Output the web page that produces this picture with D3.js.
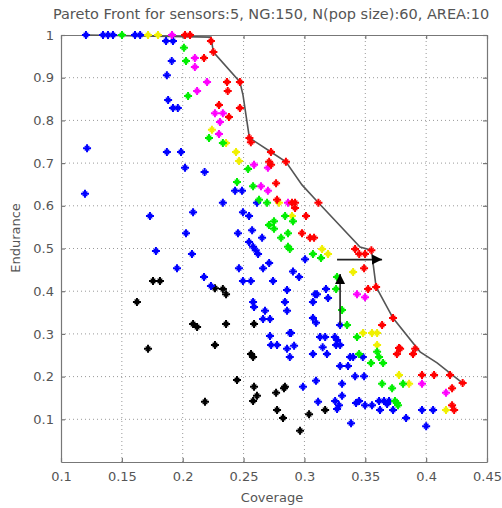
<!DOCTYPE html>
<html lang="en">
<head>
  <meta charset="UTF-8">
  <title>Pareto Front</title>
  <script src="https://cdn.jsdelivr.net/npm/d3@7"></script>
  <style>
    body { margin: 0; background: #fff; }
    text { font-family: "DejaVu Sans", Arial, sans-serif; fill: #555; }
  </style>
</head>
<body>
<script>
// points, [coverage, endurance]
const bluePts = [[0.1205,1],[0.1345,1],[0.1386,1],[0.1427,1],[0.1608,1],[0.165,1],[0.1863,0.986],[0.192,0.986],
  [0.191,0.939],[0.187,0.906],[0.188,0.848],[0.192,0.829],[0.196,0.829],[0.1214,0.735],[0.187,0.726],[0.1986,0.726],
  [0.2019,0.689],[0.218,0.679],[0.1197,0.628],[0.233,0.607],[0.1731,0.576],[0.2085,0.585],[0.2027,0.536],[0.178,0.494],
  [0.2076,0.487],[0.1953,0.454],[0.2175,0.433],[0.2232,0.412],[0.243,0.635],[0.2487,0.635],[0.261,0.607],[0.2495,0.585],
  [0.2545,0.576],[0.2454,0.536],[0.257,0.543],[0.2652,0.525],[0.2545,0.515],[0.2578,0.504],[0.26,0.496],[0.2619,0.487],
  [0.3005,0.475],[0.2462,0.454],[0.266,0.454],[0.271,0.466],[0.2906,0.446],[0.2956,0.433],[0.2495,0.424],[0.256,0.424],
  [0.2742,0.424],[0.2857,0.403],[0.3103,0.393],[0.3177,0.405],[0.3087,0.393],[0.3194,0.384],[0.307,0.375],[0.307,0.337],
  [0.3095,0.326],[0.3293,0.321],[0.3128,0.293],[0.317,0.293],[0.325,0.293],[0.3268,0.286],[0.315,0.269],[0.326,0.274],
  [0.3293,0.274],[0.288,0.302],[0.2915,0.272],[0.2857,0.265],[0.288,0.246],[0.307,0.253],[0.3185,0.253],[0.3375,0.246],
  [0.34,0.246],[0.348,0.246],[0.3293,0.225],[0.3358,0.225],[0.3416,0.201],[0.349,0.201],[0.3095,0.19],[0.3309,0.183],
  [0.2988,0.176],[0.3112,0.141],[0.3252,0.143],[0.3284,0.133],[0.3268,0.124],[0.3309,0.155],[0.3424,0.138],[0.3449,0.143],
  [0.3498,0.133],[0.3555,0.133],[0.3613,0.143],[0.3621,0.122],[0.3654,0.143],[0.3695,0.143],[0.3679,0.136],[0.3728,0.122],
  [0.3966,0.122],[0.4057,0.122],[0.3835,0.103],[0.40,0.084],[0.3383,0.091],[0.2578,0.375],[0.2586,0.363],[0.284,0.375],
  [0.2857,0.354],[0.2676,0.354],[0.266,0.335],[0.2717,0.335],[0.289,0.302],[0.2717,0.295],[0.2726,0.274],[0.2775,0.274]];

const redPts = [[0.2019,1],[0.206,1],[0.2232,0.986],[0.2252,0.96],[0.2175,0.946],[0.2364,0.89],[0.247,0.89],[0.237,0.869],
  [0.2298,0.836],[0.247,0.829],[0.238,0.808],[0.2548,0.759],[0.256,0.749],[0.2725,0.726],[0.2848,0.703],[0.271,0.703],
  [0.2726,0.696],[0.2767,0.653],[0.2775,0.614],[0.2898,0.607],[0.2923,0.607],[0.2923,0.595],[0.3115,0.607],[0.3013,0.576],
  [0.298,0.536],[0.3046,0.525],[0.3079,0.525],[0.3416,0.499],[0.345,0.487],[0.3498,0.487],[0.355,0.496],[0.349,0.454],
  [0.3589,0.41],[0.3523,0.405],[0.3728,0.337],[0.3638,0.321],[0.3777,0.267],[0.376,0.253],[0.3786,0.265],[0.3892,0.253],
  [0.391,0.265],[0.3966,0.204],[0.4065,0.204],[0.4196,0.204],[0.43,0.185],[0.4213,0.173],[0.4213,0.133],[0.423,0.122]];

const magentaPts = [[0.1912,1],[0.21,0.946],[0.21,0.925],[0.22,0.89],[0.2118,0.869],[0.2265,0.817],[0.233,0.817],
  [0.2306,0.796],[0.2298,0.768],[0.2586,0.696],[0.27,0.689],[0.2643,0.646],[0.27,0.635],[0.2865,0.607],[0.3432,0.393],
  [0.3498,0.386],[0.3966,0.183],[0.4163,0.162]];

const greenPts = [[0.1501,1],[0.201,0.97],[0.2027,0.939],[0.2044,0.857],[0.2216,0.759],[0.233,0.747],[0.2537,0.686],
  [0.2446,0.656],[0.2578,0.646],[0.2627,0.614],[0.2693,0.607],[0.2841,0.576],[0.2906,0.564],[0.275,0.564],[0.2709,0.555],
  [0.275,0.546],[0.2865,0.536],[0.2808,0.525],[0.2865,0.504],[0.288,0.499],[0.307,0.487],[0.3136,0.478],[0.3268,0.433],
  [0.326,0.405],[0.3309,0.356],[0.335,0.321],[0.3432,0.293],[0.3449,0.253],[0.3597,0.258],[0.3613,0.246],[0.3547,0.232],
  [0.3646,0.232],[0.3638,0.183],[0.372,0.173],[0.381,0.183],[0.3744,0.143],[0.376,0.138],[0.3769,0.133]];

const yellowPts = [[0.1715,1],[0.1797,1],[0.224,0.778],[0.2356,0.747],[0.2438,0.726],[0.2463,0.705],[0.2791,0.607],
  [0.2898,0.576],[0.3145,0.499],[0.3194,0.487],[0.34,0.445],[0.3481,0.302],[0.3555,0.302],[0.3597,0.302],[0.3597,0.274],
  [0.3777,0.204],[0.386,0.183],[0.4163,0.122]];

const blackPts = [[0.1756,0.424],[0.1813,0.424],[0.2265,0.407],[0.233,0.405],[0.2356,0.393],[0.1624,0.375],[0.2085,0.323],
  [0.2118,0.316],[0.2356,0.323],[0.2586,0.323],[0.1715,0.265],[0.2265,0.274],[0.2561,0.253],[0.2578,0.246],[0.2446,0.192],
  [0.2586,0.176],[0.261,0.155],[0.2578,0.143],[0.2183,0.141],[0.2767,0.162],[0.284,0.176],[0.2775,0.122],[0.2824,0.103],
  [0.2964,0.073],[0.2832,0.173],[0.317,0.122],[0.3038,0.112]];

const frontPts = [[0.1205,1],[0.2232,0.995],[0.2252,0.96],[0.247,0.89],[0.2495,0.86],[0.2548,0.759],[0.2725,0.726],
  [0.2848,0.703],[0.298,0.649],[0.3115,0.607],[0.3457,0.5035],[0.355,0.496],[0.3589,0.41],[0.3728,0.337],[0.395,0.258],
  [0.409,0.232],[0.43,0.185]];

// arrows: [x1, y1, x2, y2]
const arrowH = [0.3268, 0.474, 0.3638, 0.474];
const arrowV = [0.3293, 0.321, 0.3293, 0.44];

const xTicks = [0.1, 0.15, 0.2, 0.25, 0.3, 0.35, 0.4, 0.45];
const yTicks = [0.1, 0.2, 0.3, 0.4, 0.5, 0.6, 0.7, 0.8, 0.9, 1];

const groups = [
  {pts: blackPts, color: "#000000"},
  {pts: bluePts, color: "#0000ff"},
  {pts: yellowPts, color: "#f0f000"},
  {pts: greenPts, color: "#00ee00"},
  {pts: magentaPts, color: "#ff00ff"},
  {pts: redPts, color: "#ff0000"}
];

const width = 502, height = 508;
const m = {left: 61, right: 15, top: 35, bottom: 46};

const x = d3.scaleLinear().domain([0.1, 0.45]).range([m.left, width - m.right]);
const y = d3.scaleLinear().domain([0, 1]).range([height - m.bottom, m.top]);

const svg = d3.select("body").append("svg")
  .attr("width", width)
  .attr("height", height);

// dotted grid
svg.append("g")
  .selectAll("line")
  .data(xTicks.slice(1, -1))
  .enter().append("line")
  .attr("x1", d => x(d)).attr("x2", d => x(d))
  .attr("y1", y(0)).attr("y2", y(1))
  .attr("stroke", "#999").attr("stroke-dasharray", "1,3");

svg.append("g")
  .selectAll("line")
  .data(yTicks.slice(0, -1))
  .enter().append("line")
  .attr("y1", d => y(d)).attr("y2", d => y(d))
  .attr("x1", x(0.1)).attr("x2", x(0.45))
  .attr("stroke", "#999").attr("stroke-dasharray", "1,3");

// axes, ticks pointing inward
svg.append("g")
  .attr("transform", `translate(0,${y(0)})`)
  .call(d3.axisBottom(x).tickValues(xTicks).tickFormat(d3.format("")).tickSizeInner(-4).tickSizeOuter(0).tickPadding(10));
svg.append("g")
  .attr("transform", `translate(${x(0.1)},0)`)
  .call(d3.axisLeft(y).tickValues(yTicks).tickFormat(d3.format("")).tickSizeInner(-4).tickSizeOuter(0).tickPadding(7));
svg.append("g")
  .attr("transform", `translate(0,${y(1)})`)
  .call(d3.axisTop(x).tickValues(xTicks).tickFormat("").tickSizeInner(-4).tickSizeOuter(0));
svg.append("g")
  .attr("transform", `translate(${x(0.45)},0)`)
  .call(d3.axisRight(y).tickValues(yTicks).tickFormat("").tickSizeInner(-4).tickSizeOuter(0));

svg.selectAll(".domain, .tick line").attr("stroke", "#777").attr("stroke-width", 1.2);
svg.selectAll(".tick text").attr("font-size", 13).attr("font-family", "DejaVu Sans, sans-serif").style("fill", "#555");

// pareto front
const line = d3.line().x(d => x(d[0])).y(d => y(d[1]));
svg.append("path")
  .datum(frontPts)
  .attr("d", line)
  .attr("fill", "none")
  .attr("stroke", "#555")
  .attr("stroke-width", 1.6);

// blurry plus-like markers
const r = 4, k = 2.3;
const plus = `M${-r},0L${r},0M0,${-r}L0,${r}`;
const diag = `M${-k},${-k}L${k},${k}M${-k},${k}L${k},${-k}`;

groups.forEach(g => {
  const mk = svg.append("g")
    .selectAll("g")
    .data(g.pts)
    .enter().append("g")
    .attr("transform", d => `translate(${x(d[0])},${y(d[1])})`);
  mk.append("path").attr("d", plus).attr("fill", "none").attr("stroke", g.color).attr("stroke-width", 2);
  mk.append("path").attr("d", diag).attr("fill", "none").attr("stroke", g.color).attr("stroke-width", 1.3);
});

// arrows
function arrow(a) {
  const x1 = x(a[0]), y1 = y(a[1]), x2 = x(a[2]), y2 = y(a[3]);
  svg.append("line")
    .attr("x1", x1).attr("y1", y1).attr("x2", x2).attr("y2", y2)
    .attr("stroke", "#222").attr("stroke-width", 1.6);
  const ang = Math.atan2(y2 - y1, x2 - x1) * 180 / Math.PI;
  svg.append("path")
    .attr("transform", `translate(${x2},${y2}) rotate(${ang})`)
    .attr("d", "M0,0L-10,-5L-10,5Z")
    .attr("fill", "#000");
}
arrow(arrowH);
arrow(arrowV);

// labels
svg.append("text")
  .attr("x", 271).attr("y", 19)
  .attr("text-anchor", "middle")
  .attr("font-size", 14.5)
  .text("Pareto Front for sensors:5, NG:150, N(pop size):60, AREA:10");

svg.append("text")
  .attr("x", 272).attr("y", 502)
  .attr("text-anchor", "middle")
  .attr("font-size", 13)
  .text("Coverage");

svg.append("text")
  .attr("transform", "translate(20,238) rotate(-90)")
  .attr("text-anchor", "middle")
  .attr("font-size", 13)
  .text("Endurance");
</script>
</body>
</html>
